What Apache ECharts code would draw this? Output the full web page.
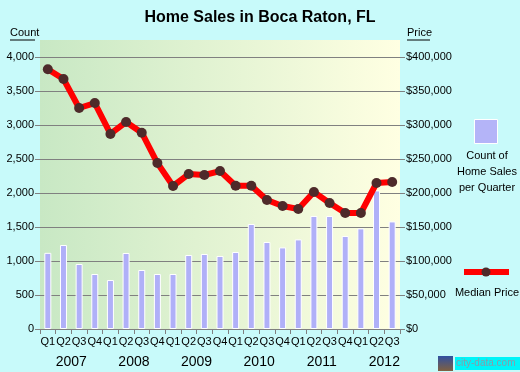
<!DOCTYPE html>
<html><head><meta charset="utf-8">
<script src="https://cdn.jsdelivr.net/npm/echarts@6/dist/echarts.min.js"></script>
<style>html,body{margin:0;padding:0;background:#C8FAFA;}#c{width:520px;height:372px;}</style>
</head><body><div id="c"></div>
<script>
var quarters = ['Q1','Q2','Q3','Q4','Q1','Q2','Q3','Q4','Q1','Q2','Q3','Q4','Q1','Q2','Q3','Q4','Q1','Q2','Q3','Q4','Q1','Q2','Q3'];
var years = ['2007','2008','2009','2010','2011','2012'];
var yearCenters = [2, 6, 10, 14, 18, 22];
var salesCount = [1120,1235,956,809,720,1118,868,809,809,1088,1103,1074,1132,1544,1279,1200,1318,1662,1662,1368,1480,2038,1582];
var medianPrice = [382000,367600,325000,332300,286800,304400,288700,244100,210300,227900,226500,232300,210700,210700,189700,180900,176500,201500,185300,170600,170600,214700,216200];
var countTicks = {min:0, max:4000, interval:500};
var priceTicks = {min:0, max:400000, interval:50000};

var chart = echarts.init(document.getElementById('c'), null, {renderer:'canvas'});
var font = 'Liberation Sans, Arial, sans-serif';
function commas(v){ return String(v).replace(/\B(?=(\d{3})+(?!\d))/g, ','); }
var L = 40, R = 400, T = 57, B = 329;
chart.setOption({
  backgroundColor: '#C8FAFA',
  animation: false,
  title: {text: 'Home Sales in Boca Raton, FL', left: 'center', top: 5,
    textStyle: {fontFamily: font, fontSize: 16, fontWeight: 'bold', color: '#000'}},
  graphic: [
    {type:'rect', z:-10, shape:{x:L, y:40, width:R-L, height:B-40},
     style:{fill:new echarts.graphic.LinearGradient(0,0,1,0,[{offset:0,color:'#C8E8C4'},{offset:1,color:'#FFFFE2'}])}},
    {type:'text', left:10, top:27, style:{text:'Count', fontFamily:font, fontSize:11, fill:'#000'}},
    {type:'line', shape:{x1:10, y1:40, x2:35, y2:40}, style:{stroke:'#000', lineWidth:1}},
    {type:'text', left:407, top:27, style:{text:'Price', fontFamily:font, fontSize:11, fill:'#000'}},
    {type:'line', shape:{x1:407, y1:40, x2:430, y2:40}, style:{stroke:'#000', lineWidth:1}},
    {type:'rect', shape:{x:474.5, y:119.5, width:23, height:24}, style:{fill:'#B4B4F8', stroke:'#fff', lineWidth:1}},
    {type:'text', x:487, y:148, style:{text:'Count of\nHome Sales\nper Quarter', align:'center', fontFamily:font, fontSize:11, lineHeight:16, fill:'#000'}},
    {type:'line', shape:{x1:464, y1:272, x2:509, y2:272}, style:{stroke:'#FF0000', lineWidth:6}},
    {type:'circle', shape:{cx:486, cy:272, r:4.5}, style:{fill:'#4E2A2A'}},
    {type:'text', x:487, y:287, style:{text:'Median Price', align:'center', fontFamily:font, fontSize:11, fill:'#000'}},
    {type:'rect', shape:{x:438, y:356, width:15, height:15}, style:{fill:new echarts.graphic.LinearGradient(0,0,0,1,[{offset:0,color:'#3050a0'},{offset:1,color:'#806040'}])}},
    {type:'rect', shape:{x:455, y:357, width:65, height:13}, style:{fill:'#00F4F8'}},
    {type:'text', x:456, y:358, style:{text:'city-data.com', fontFamily:font, fontSize:10, fill:'#8a9aa8'}}
  ],
  grid: {left:L, right:520-R, top:T, bottom:372-B},
  xAxis: [
    {type:'category', data:quarters, boundaryGap:true,
     axisLine:{show:true, lineStyle:{color:'#808080'}},
     axisTick:{show:true, length:5, lineStyle:{color:'#808080'}},
     axisLabel:{interval:0, margin:7, fontFamily:font, fontSize:11, color:'#000'},
     splitLine:{show:false}},
    {type:'value', min:0, max:quarters.length, position:'bottom', offset:18,
     axisLine:{show:false}, axisTick:{show:false}, splitLine:{show:false},
     axisLabel:{customValues:yearCenters, showMinLabel:true, showMaxLabel:true, fontFamily:font, fontSize:14, color:'#000',
       formatter:function(v){ var i = yearCenters.indexOf(v); return i>=0 ? years[i] : ''; }}}
  ],
  yAxis: [
    {type:'value', min:countTicks.min, max:countTicks.max, interval:countTicks.interval,
     axisLine:{show:false}, axisTick:{show:true, length:5, lineStyle:{color:'#808080'}},
     splitLine:{show:true, lineStyle:{color:'#808080', width:1}},
     axisLabel:{margin:6, fontFamily:font, fontSize:11, color:'#000', formatter:function(v){return commas(v);}}},
    {type:'value', min:priceTicks.min, max:priceTicks.max, interval:priceTicks.interval, position:'right',
     axisLine:{show:false}, axisTick:{show:true, length:5, lineStyle:{color:'#808080'}},
     splitLine:{show:false},
     axisLabel:{margin:6, fontFamily:font, fontSize:11, color:'#000', formatter:function(v){return '$'+commas(v);}}}
  ],
  series: [
    {type:'bar', xAxisIndex:0, yAxisIndex:0, data:salesCount, barWidth:7,
     itemStyle:{color:'#B0B0F8', borderColor:'#fff', borderWidth:1}},
    {type:'line', xAxisIndex:0, yAxisIndex:1, data:medianPrice, symbol:'circle', symbolSize:10,
     lineStyle:{color:'#FF0000', width:6}, itemStyle:{color:'#4E2A2A'}, z:5}
  ]
});
</script></body></html>
